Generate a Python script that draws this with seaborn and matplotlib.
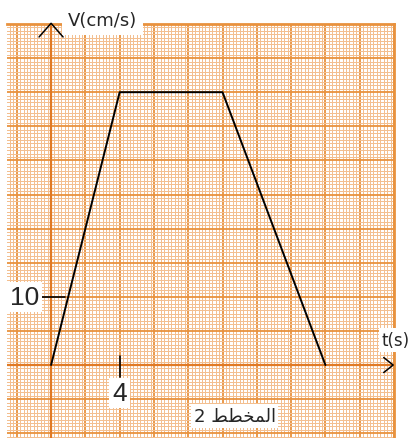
import matplotlib
matplotlib.use("Agg")
import matplotlib.pyplot as plt
import seaborn as sns
import numpy as np
import pandas as pd

# data
t_values = [0, 4, 10, 16]
v_values = [0, 40, 40, 0]
x_tick_label = "4"
y_tick_label = "10"
x_label = "t(s)"
y_label = "V(cm/s)"
caption = "2 " + "\uFEC2\uFEC4\uFEA8\uFEE4\uFEDF\uFE8D"  # visual order of "المخطط 2"

sns.set_style("white")
plt.rcParams['font.family'] = ['Liberation Sans', 'DejaVu Sans']

W, H = 414, 439
fig = plt.figure(figsize=(W / 100, H / 100), dpi=100)
ax = fig.add_axes([7 / W, 0, 387 / W, 414 / H])
ax.set_xlim(-2.57, 20)
ax.set_ylim(-10.7, 50)

major = "#E8923E"
minor = "#F3BF90"
xmaj = np.arange(-2, 20.01, 2)
ymaj = np.arange(-10, 50.01, 5)
xmin_ = [v for v in np.round(np.arange(-2.4, 20.01, 0.2), 6)
         if abs(v / 2 - round(v / 2)) > 1e-6]
ymin_ = [v for v in np.round(np.arange(-10.5, 50.01, 0.5), 6)
         if abs(v / 5 - round(v / 5)) > 1e-6]
ax.set_xticks(xmaj)
ax.set_yticks(ymaj)
ax.set_xticks(xmin_, minor=True)
ax.set_yticks(ymin_, minor=True)
ax.grid(True, which="minor", color=minor, lw=0.5, antialiased=False)
ax.grid(True, which="major", color=major, lw=1.3)
ax.tick_params(which="both", length=0, labelbottom=False, labelleft=False)
for s in ["left", "bottom"]:
    ax.spines[s].set_visible(False)
for s in ["top", "right"]:
    ax.spines[s].set_color(major)
    ax.spines[s].set_linewidth(2)
ax.set_axisbelow(True)

# axes (orange)
ax.axhline(0, color="#E07A25", lw=1.6, zorder=2)
ax.axvline(0, color="#E07A25", lw=1.6, zorder=2)

df = pd.DataFrame({"t": t_values, "v": v_values})
sns.lineplot(data=df, x="t", y="v", ax=ax, color="black", lw=1.4, sort=False,
             zorder=5)
ax.set_xlabel("")
ax.set_ylabel("")

# arrows
ax.plot([-0.7, 0, 0.7], [-1.9 + 50, 50.1, -1.9 + 50], color="black", lw=1.1,
        clip_on=False, zorder=6)
ax.plot([19.4, 19.95, 19.4], [1.1, 0, -1.1], color="black", lw=1.1,
        clip_on=False, zorder=6)

# ticks
ax.plot([-0.64, 0.8], [10, 10], color="black", lw=1.2, zorder=6)
ax.plot([4, 4], [1.3, -1.8], color="black", lw=1.2, zorder=6)

wb = dict(facecolor="white", edgecolor="none", pad=2)
ax.text(-0.7, 10, y_tick_label, fontsize=19, ha="right", va="center",
        bbox=wb, zorder=7)
ax.text(4, -2.4, x_tick_label, fontsize=19, ha="center", va="top",
        bbox=wb, zorder=7)
ax.text(3.0, 50.6, y_label, fontsize=13, ha="center", va="center",
        family=["DejaVu Sans"],
        bbox=dict(facecolor="white", edgecolor="none", pad=4), clip_on=False,
        zorder=7)
ax.text(19.3, 3.7, x_label, fontsize=12, ha="left", va="center",
        family=["DejaVu Sans"], bbox=wb, clip_on=False, zorder=7)
ax.text(10.7, -7.5, caption, fontsize=13, ha="center", va="center",
        family=["DejaVu Sans"], bbox=wb, zorder=7)

fig.savefig("out.png", dpi=100)
